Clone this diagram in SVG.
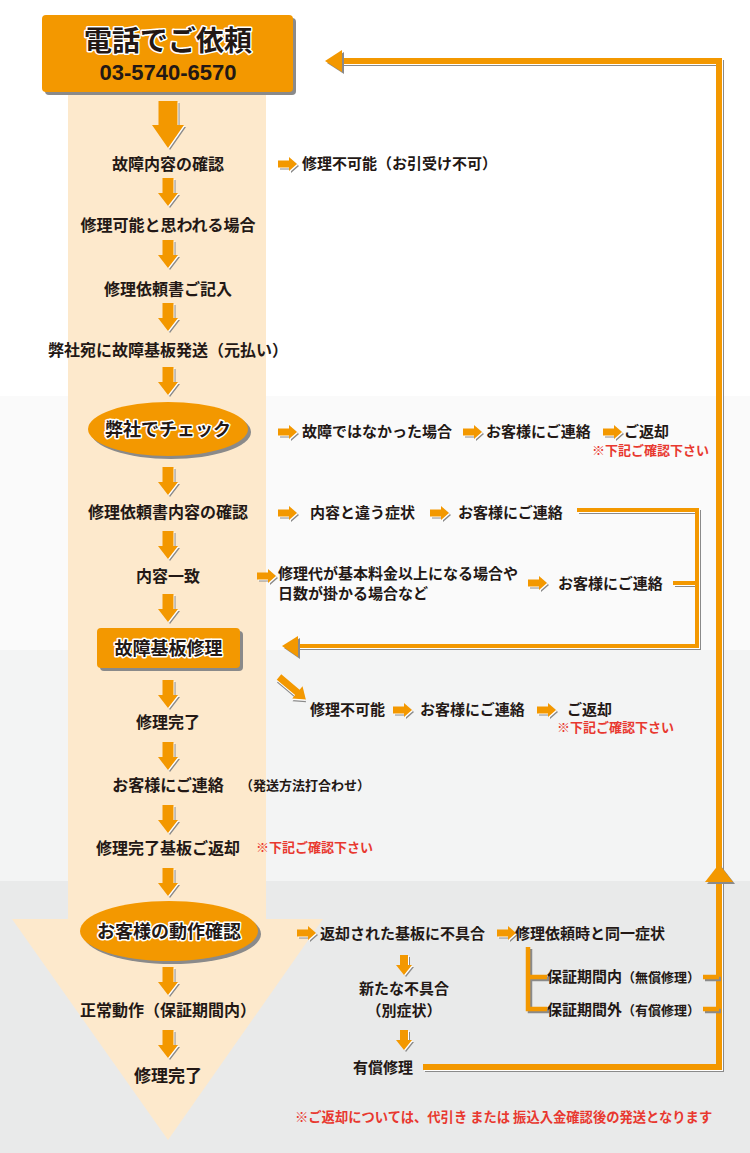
<svg xmlns="http://www.w3.org/2000/svg" width="750" height="1153" viewBox="0 0 750 1153">
<style>
.t{font-family:"Noto Sans CJK JP","Noto Sans",sans-serif;font-weight:700;fill:#231815}
.f{font-size:16px;text-anchor:middle}
.r{font-size:15px}
.s{font-size:13px}
.red{fill:#e8382f}
.o{fill:#f39800}
.sh{fill:#8a8a8a}
.wh{fill:#fff}
.halo{stroke:#fff;stroke-width:3;paint-order:stroke;stroke-linejoin:round}
.ln{fill:none;stroke:#f39800}
.lnS{fill:none;stroke:#8a8a8a}
.lnW{fill:none;stroke:#fff}
</style>
<defs>
<polygon id="dS" points="-5.5,0 5.5,0 5.5,15 10,15 0,28 -10,15 -5.5,15"/>
<polygon id="dB" points="-9.5,0 9.5,0 9.5,24 16,24 0,47 -16,24 -9.5,24"/>
<polygon id="rS" points="0,-3.5 11,-3.5 11,-7 19,0 11,7 11,3.5 0,3.5"/>
<polygon id="dT" points="-4,0 4,0 4,10 8,10 0,20 -8,10 -4,10"/>
<polygon id="dg" points="0,-3.5 24,-3.5 24,-8 35,0 24,8 24,3.5 0,3.5"/>
<g id="aS"><use href="#dS" class="sh" x="2" y="2"/><use href="#dS" class="wh" x="1" y="1"/><use href="#dS" class="o"/></g>
<g id="aB"><use href="#dB" class="sh" x="2" y="2"/><use href="#dB" class="wh" x="1" y="1"/><use href="#dB" class="o"/></g>
<g id="aR"><use href="#rS" class="sh" x="2" y="2"/><use href="#rS" class="wh" x="1" y="1"/><use href="#rS" class="o"/></g>
<g id="aT"><use href="#dT" class="sh" x="2" y="2"/><use href="#dT" class="wh" x="1" y="1"/><use href="#dT" class="o"/></g>
</defs>

<g id="background">
<rect x="0" y="0" width="750" height="396" fill="#ffffff"/>
<rect x="0" y="396" width="750" height="254" fill="#fafafa"/>
<rect x="0" y="650" width="750" height="231" fill="#f3f4f4"/>
<rect x="0" y="881" width="750" height="272" fill="#e9eaea"/>
<rect x="68" y="80" width="198" height="840" fill="#fde9cc"/>
<polygon points="12,919 323,919 168,1140" fill="#fde9cc"/>
</g>

<g id="connectors">
<path d="M423,1067 H719 V61 H340" class="lnS" stroke-width="6" transform="translate(2,2)"/>
<path d="M423,1067 H719 V61 H340" class="lnW" stroke-width="6" transform="translate(1,1)"/>
<path d="M423,1067 H719 V61 H340" class="ln" stroke-width="6"/>
<polygon points="325,61 342,50 342,72" class="sh" transform="translate(2,2)"/>
<polygon points="325,61 342,50 342,72" class="o"/>
<polygon points="719,864 733,882 705,882" class="sh" transform="translate(2,2)"/>
<polygon points="719,864 733,882 705,882" class="o"/>

<path d="M577,510 H697 V646 H296 M673,583 H697" class="lnS" stroke-width="4" transform="translate(2,2)"/>
<path d="M577,510 H697 V646 H296 M673,583 H697" class="lnW" stroke-width="4" transform="translate(1,1)"/>
<path d="M577,510 H697 V646 H296 M673,583 H697" class="ln" stroke-width="4"/>
<polygon points="282,646 298,636 298,657" class="sh" transform="translate(2,2)"/>
<polygon points="282,646 298,636 298,657" class="o"/>

<path d="M528,947 V1009 H547 M528,977 H547 M703,977 H719 M703,1009 H719" class="lnS" stroke-width="4.5" transform="translate(2,2)"/>
<path d="M528,947 V1009 H547 M528,977 H547 M703,977 H719 M703,1009 H719" class="ln" stroke-width="4.5"/>

<use href="#aB" x="168" y="101"/>
<use href="#aS" x="168" y="178"/>
<use href="#aS" x="168" y="240"/>
<use href="#aS" x="168" y="303"/>
<use href="#aS" x="168" y="367"/>
<use href="#aS" x="168" y="467"/>
<use href="#aS" x="168" y="531"/>
<use href="#aS" x="168" y="594"/>
<use href="#aS" x="168" y="680"/>
<use href="#aS" x="168" y="742"/>
<use href="#aS" x="168" y="805"/>
<use href="#aS" x="168" y="868"/>
<use href="#aS" x="168" y="967"/>
<use href="#aS" x="168" y="1030"/>

<use href="#aR" x="278" y="164"/>
<use href="#aR" x="278" y="432"/>
<use href="#aR" x="463" y="432"/>
<use href="#aR" x="603" y="432"/>
<use href="#aR" x="278" y="513"/>
<use href="#aR" x="430" y="513"/>
<use href="#aR" x="257" y="576"/>
<use href="#aR" x="528" y="583"/>
<use href="#aR" x="393" y="710"/>
<use href="#aR" x="537" y="710"/>
<use href="#aR" x="297" y="933"/>
<use href="#aR" x="497" y="933"/>

<use href="#aT" x="404" y="955"/>
<use href="#aT" x="404" y="1030"/>

<g transform="translate(279,677) rotate(40)">
<use href="#dg" class="sh" x="2" y="2"/><use href="#dg" class="wh" x="1" y="1"/><use href="#dg" class="o"/>
</g>
</g>

<g id="n-header">
<rect x="45" y="18" width="251" height="77" rx="4" class="sh"/>
<rect x="42" y="15" width="251" height="77" rx="4" class="o"/>
<text x="168" y="51" class="t halo" font-size="28" text-anchor="middle">電話でご依頼</text>
<text x="168" y="80" class="t" font-size="22" text-anchor="middle" style="font-family:'Liberation Sans',Arial,sans-serif">03-5740-6570</text>
</g>

<g id="n-check1"><text x="168" y="170" class="t f">故障内容の確認</text></g>
<g id="n-possible"><text x="168" y="231" class="t f">修理可能と思われる場合</text></g>
<g id="n-form"><text x="168" y="295" class="t f">修理依頼書ご記入</text></g>
<g id="n-send"><text x="168" y="356" class="t f">弊社宛に故障基板発送（元払い）</text></g>

<g id="n-check">
<ellipse cx="171" cy="432" rx="80" ry="27" class="sh"/>
<ellipse cx="168" cy="429" rx="80" ry="27" class="o"/>
<text x="168" y="436" class="t halo" font-size="18" text-anchor="middle">弊社でチェック</text>
</g>

<g id="n-formcheck"><text x="168" y="518" class="t f">修理依頼書内容の確認</text></g>
<g id="n-match"><text x="168" y="582" class="t f">内容一致</text></g>

<g id="n-repair">
<rect x="100" y="631" width="143" height="40" rx="4" class="sh"/>
<rect x="97" y="628" width="143" height="40" rx="4" class="o"/>
<text x="168.5" y="655" class="t halo" font-size="18" text-anchor="middle">故障基板修理</text>
</g>

<g id="n-done1"><text x="168" y="728" class="t f">修理完了</text></g>
<g id="n-contact"><text x="168" y="791" class="t f">お客様にご連絡</text>
<text x="240" y="790" class="t s">（発送方法打合わせ）</text></g>
<g id="n-return"><text x="168" y="854" class="t f">修理完了基板ご返却</text>
<text x="256" y="852" class="t s red">※下記ご確認下さい</text></g>

<g id="n-verify">
<ellipse cx="172" cy="934" rx="89" ry="30" class="sh"/>
<ellipse cx="169" cy="931" rx="89" ry="30" class="o"/>
<text x="169" y="938" class="t halo" font-size="18" text-anchor="middle">お客様の動作確認</text>
</g>

<g id="n-normal"><text x="168" y="1016" class="t f">正常動作（保証期間内）</text></g>
<g id="n-done2"><text x="168" y="1082" class="t" font-size="17" text-anchor="middle">修理完了</text></g>

<g id="n-impossible"><text x="302" y="169" class="t r">修理不可能（お引受け不可）</text></g>

<g id="n-nofault">
<text x="302" y="437" class="t r">故障ではなかった場合</text>
<text x="486" y="437" class="t r">お客様にご連絡</text>
<text x="624" y="437" class="t r">ご返却</text>
<text x="592" y="455" class="t s red">※下記ご確認下さい</text>
</g>

<g id="n-differ">
<text x="310" y="518" class="t r">内容と違う症状</text>
<text x="458" y="518" class="t r">お客様にご連絡</text>
</g>

<g id="n-cost">
<text x="278" y="578.5" class="t r">修理代が基本料金以上になる場合や</text>
<text x="278" y="598.5" class="t r">日数が掛かる場合など</text>
<text x="558" y="588.5" class="t r">お客様にご連絡</text>
</g>

<g id="n-unrepairable">
<text x="310" y="715" class="t r">修理不可能</text>
<text x="420" y="715" class="t r">お客様にご連絡</text>
<text x="567" y="715" class="t r">ご返却</text>
<text x="557" y="732" class="t s red">※下記ご確認下さい</text>
</g>

<g id="n-defect">
<text x="320" y="938.5" class="t r">返却された基板に不具合</text>
<text x="515" y="938.5" class="t r">修理依頼時と同一症状</text>
</g>
<g id="n-warranty">
<text x="547" y="981.5" class="t r">保証期間内<tspan class="s">（無償修理）</tspan></text>
<text x="547" y="1014.5" class="t r">保証期間外<tspan class="s">（有償修理）</tspan></text>
</g>
<g id="n-new">
<text x="404" y="993.5" class="t r" text-anchor="middle">新たな不具合</text>
<text x="404" y="1015.5" class="t r" text-anchor="middle">（別症状）</text>
</g>
<g id="n-paid"><text x="353" y="1072.5" class="t r">有償修理</text></g>

<g id="n-note"><text x="295" y="1122" class="t red" font-size="13.3">※ご返却については、代引き または 振込入金確認後の発送となります</text></g>
</svg>
